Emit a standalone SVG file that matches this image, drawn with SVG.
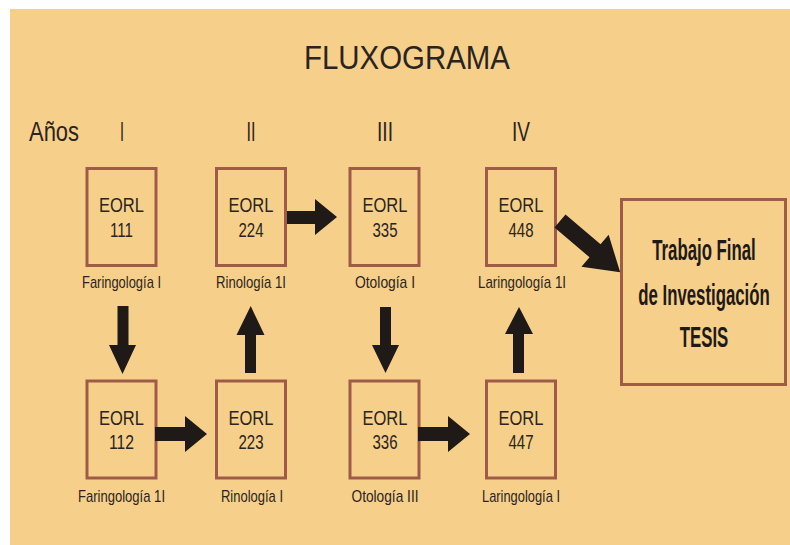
<svg xmlns="http://www.w3.org/2000/svg" width="790" height="545" viewBox="0 0 790 545">
<style>
.box{fill:none;stroke:#9e5b48;stroke-width:3}
.t{font-family:"Liberation Sans",Arial,sans-serif;fill:#2a2420;text-anchor:middle}
.code{font-size:20px}
.lbl{font-size:17px}
.big{font-size:30px;font-weight:bold;fill:#1f1a17}
.arr{fill:#1f1a17}
</style>
<rect x="10" y="9" width="780" height="536" fill="#f6d08a"/>
<text class="t" x="407" y="69" font-size="34" textLength="206" lengthAdjust="spacingAndGlyphs">FLUXOGRAMA</text>
<g id="years">
<text class="t" x="54" y="141" font-size="27" textLength="50" lengthAdjust="spacingAndGlyphs">Años</text>
<text class="t" x="122" y="141" font-size="27" textLength="4" lengthAdjust="spacingAndGlyphs">I</text>
<text class="t" x="251" y="141" font-size="27" textLength="9" lengthAdjust="spacingAndGlyphs">II</text>
<text class="t" x="385" y="141" font-size="27" textLength="16" lengthAdjust="spacingAndGlyphs">III</text>
<text class="t" x="521" y="141" font-size="27" textLength="18" lengthAdjust="spacingAndGlyphs">IV</text>
</g>
<g id="n111">
<rect class="box" x="87" y="168.5" width="69" height="97"/>
<text class="t code" x="121.5" y="212" textLength="45" lengthAdjust="spacingAndGlyphs">EORL</text>
<text class="t code" x="121.5" y="237" textLength="23" lengthAdjust="spacingAndGlyphs">111</text>
<text class="t lbl" x="121.5" y="288" textLength="79" lengthAdjust="spacingAndGlyphs">Faringología I</text>
</g>
<g id="n224">
<rect class="box" x="216.5" y="168.5" width="69" height="97"/>
<text class="t code" x="251" y="212" textLength="45" lengthAdjust="spacingAndGlyphs">EORL</text>
<text class="t code" x="251" y="237" textLength="25" lengthAdjust="spacingAndGlyphs">224</text>
<text class="t lbl" x="251" y="288" textLength="70" lengthAdjust="spacingAndGlyphs">Rinología 1I</text>
</g>
<g id="n335">
<rect class="box" x="350" y="168.5" width="69" height="97"/>
<text class="t code" x="385" y="212" textLength="45" lengthAdjust="spacingAndGlyphs">EORL</text>
<text class="t code" x="385" y="237" textLength="25" lengthAdjust="spacingAndGlyphs">335</text>
<text class="t lbl" x="385" y="288" textLength="60" lengthAdjust="spacingAndGlyphs">Otología I</text>
</g>
<g id="n448">
<rect class="box" x="486.5" y="168.5" width="69" height="97"/>
<text class="t code" x="521" y="212" textLength="45" lengthAdjust="spacingAndGlyphs">EORL</text>
<text class="t code" x="521" y="237" textLength="25" lengthAdjust="spacingAndGlyphs">448</text>
<text class="t lbl" x="522" y="288" textLength="88" lengthAdjust="spacingAndGlyphs">Laringología 1I</text>
</g>
<g id="n112">
<rect class="box" x="87" y="381" width="69" height="97"/>
<text class="t code" x="121.5" y="425" textLength="45" lengthAdjust="spacingAndGlyphs">EORL</text>
<text class="t code" x="121.5" y="449" textLength="25" lengthAdjust="spacingAndGlyphs">112</text>
<text class="t lbl" x="121.5" y="502" textLength="87" lengthAdjust="spacingAndGlyphs">Faringología 1I</text>
</g>
<g id="n223">
<rect class="box" x="216.5" y="381" width="69" height="97"/>
<text class="t code" x="251" y="425" textLength="45" lengthAdjust="spacingAndGlyphs">EORL</text>
<text class="t code" x="251" y="449" textLength="25" lengthAdjust="spacingAndGlyphs">223</text>
<text class="t lbl" x="252" y="502" textLength="62" lengthAdjust="spacingAndGlyphs">Rinología I</text>
</g>
<g id="n336">
<rect class="box" x="350" y="381" width="69" height="97"/>
<text class="t code" x="385" y="425" textLength="45" lengthAdjust="spacingAndGlyphs">EORL</text>
<text class="t code" x="385" y="449" textLength="25" lengthAdjust="spacingAndGlyphs">336</text>
<text class="t lbl" x="385" y="502" textLength="67" lengthAdjust="spacingAndGlyphs">Otología III</text>
</g>
<g id="n447">
<rect class="box" x="486.5" y="381" width="69" height="97"/>
<text class="t code" x="521" y="425" textLength="45" lengthAdjust="spacingAndGlyphs">EORL</text>
<text class="t code" x="521" y="449" textLength="25" lengthAdjust="spacingAndGlyphs">447</text>
<text class="t lbl" x="521" y="502" textLength="78" lengthAdjust="spacingAndGlyphs">Laringología I</text>
</g>
<g id="tesis">
<rect class="box" x="621.5" y="199.5" width="164" height="185" stroke-width="3.5"/>
<g transform="translate(704,0) scale(0.56,1)">
<text class="t big" x="0" y="260">Trabajo Final</text>
<text class="t big" x="0" y="305">de Investigación</text>
<text class="t big" x="0" y="347">TESIS</text>
</g>
</g>
<g id="connectors" class="arr">
<polygon points="117.5,306 128.5,306 128.5,345 136,345 122.5,374 109,345 117.5,345"/>
<polygon points="245,373 256,373 256,335 264.5,335 250.7,306 236.5,335 245,335"/>
<polygon points="380,307 391,307 391,345 399,345 385.5,373 372,345 380,345"/>
<polygon points="513,373 524,373 524,334 533,334 519,307 505,334 513,334"/>
<polygon points="287,211 315,211 315,199 337,217 315,235 315,224 287,224"/>
<polygon points="155,427 185,427 185,416 207,434 185,452 185,441 155,441"/>
<polygon points="418,427 448,427 448,416 470,434 448,452 448,441 418,441"/>
<polygon transform="translate(560,221) rotate(40.4)" points="0,-8.5 46,-8.5 46,-21 79,0 46,21 46,8.5 0,8.5"/>
</g>
</svg>
